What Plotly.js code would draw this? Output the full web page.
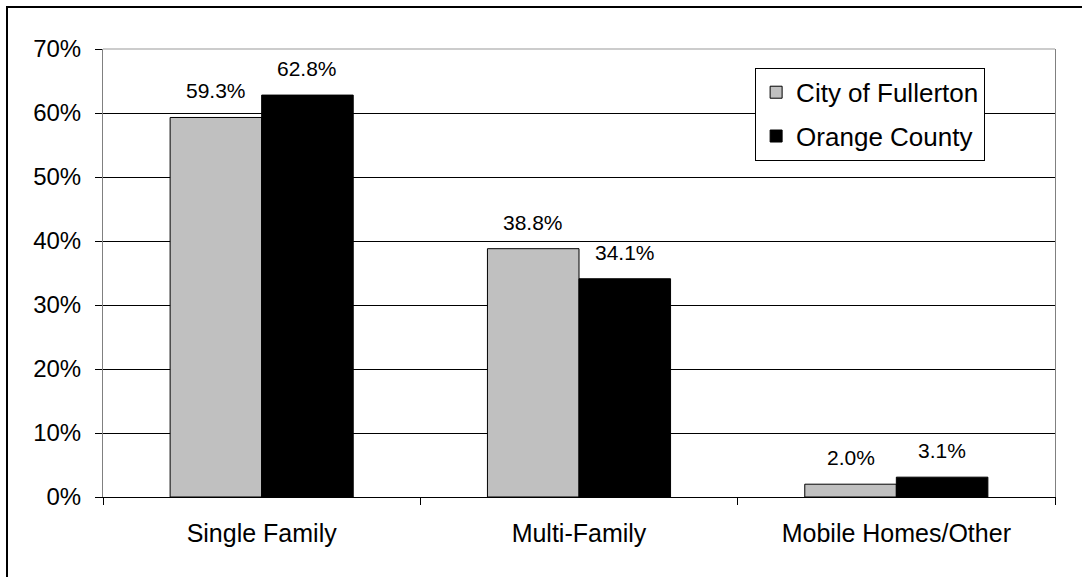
<!DOCTYPE html>
<html>
<head>
<meta charset="utf-8">
<script src="https://cdn.plot.ly/plotly-3.0.1.min.js"></script>
<style>
  html, body { margin: 0; padding: 0; background: #fff; }
  #wrap { position: relative; width: 1082px; height: 577px; overflow: hidden; }
  #chart { position: absolute; left: 0; top: 0; width: 1082px; height: 577px; }
  #frame { position: absolute; left: 6px; top: 6px; width: 1100px; height: 600px;
           border-left: 2px solid #000; border-top: 2px solid #000; pointer-events: none; }
</style>
</head>
<body>
<div id="wrap">
  <div id="chart"></div>
  <div id="frame"></div>
</div>
<script>
// ---- data ----
const categories = ['Single Family', 'Multi-Family', 'Mobile Homes/Other'];
const fullerton = [59.3, 38.8, 2.0];
const orangeCounty = [62.8, 34.1, 3.1];
const seriesNames = ['City of Fullerton', 'Orange County'];
const yTickVals = [0, 10, 20, 30, 40, 50, 60, 70];
const yTickText = ['0%', '10%', '20%', '30%', '40%', '50%', '60%', '70%'];

// ---- layout constants ----
const W = 1082, H = 577;
const M = { l: 103, r: 27, t: 49, b: 80 };
const bargap = 0.423;
const font = 'Arial, "Liberation Sans", sans-serif';

const plotW = W - M.l - M.r;
const catW = plotW / categories.length;
const barW = catW * (1 - bargap) / 2;

const traces = [
  {
    type: 'bar', name: seriesNames[0], x: categories, y: fullerton,
    legendgroup: 'g1',
    marker: { color: '#C0C0C0', line: { color: '#000', width: 1 } },
    hoverinfo: 'skip'
  },
  {
    type: 'bar', name: seriesNames[1], x: categories, y: orangeCounty,
    legendgroup: 'g2',
    marker: { color: '#000000', line: { color: '#000', width: 1 } },
    hoverinfo: 'skip'
  }
];

const annotations = [];
[fullerton, orangeCounty].forEach((vals, si) => {
  vals.forEach((v, ci) => {
    annotations.push({
      x: categories[ci], y: v, xref: 'x', yref: 'y',
      text: v.toFixed(1) + '%',
      showarrow: false, xanchor: 'center', yanchor: 'bottom',
      xshift: (si === 0 ? -1 : 1) * barW / 2,
      yshift: 13,
      font: { family: font, size: 21, color: '#000' }
    });
  });
});

const layout = {
  width: W, height: H,
  margin: { l: M.l, r: M.r, t: M.t, b: M.b, pad: 0 },
  paper_bgcolor: '#fff', plot_bgcolor: '#fff',
  font: { family: font, color: '#000' },
  barmode: 'group', bargap: bargap, bargroupgap: 0,
  showlegend: true,
  legend: {
    x: 0.685, y: 0.958, xanchor: 'left', yanchor: 'top',
    bgcolor: '#fff', bordercolor: '#000', borderwidth: 1,
    font: { family: font, size: 26, color: '#000' },
    traceorder: 'grouped', tracegroupgap: 7
  },
  xaxis: {
    type: 'category', showgrid: false, zeroline: false,
    showline: true, linecolor: '#000', linewidth: 1, mirror: false,
    ticks: 'outside', tickson: 'boundaries', ticklen: 7, tickcolor: '#000', tickwidth: 1,
    tickfont: { family: font, size: 25, color: '#000' },
    ticklabelstandoff: 14
  },
  yaxis: {
    range: [0, 70], tickvals: yTickVals, ticktext: yTickText,
    showgrid: true, gridcolor: '#000', gridwidth: 1,
    zeroline: true, zerolinecolor: '#000', zerolinewidth: 1,
    showline: true, linecolor: '#808080', linewidth: 1, mirror: true,
    ticks: 'outside', ticklen: 7, tickcolor: '#000', tickwidth: 1,
    tickfont: { family: font, size: 24, color: '#000' },
    ticklabelstandoff: 9
  },
  shapes: [
    { type: 'line', xref: 'paper', yref: 'paper', x0: 0, x1: 1, y0: 1, y1: 1,
      line: { color: '#999', width: 1 }, layer: 'above' }
  ],
  annotations: annotations
};

Plotly.newPlot('chart', traces, layout, { staticPlot: true, displayModeBar: false });
</script>
</body>
</html>
